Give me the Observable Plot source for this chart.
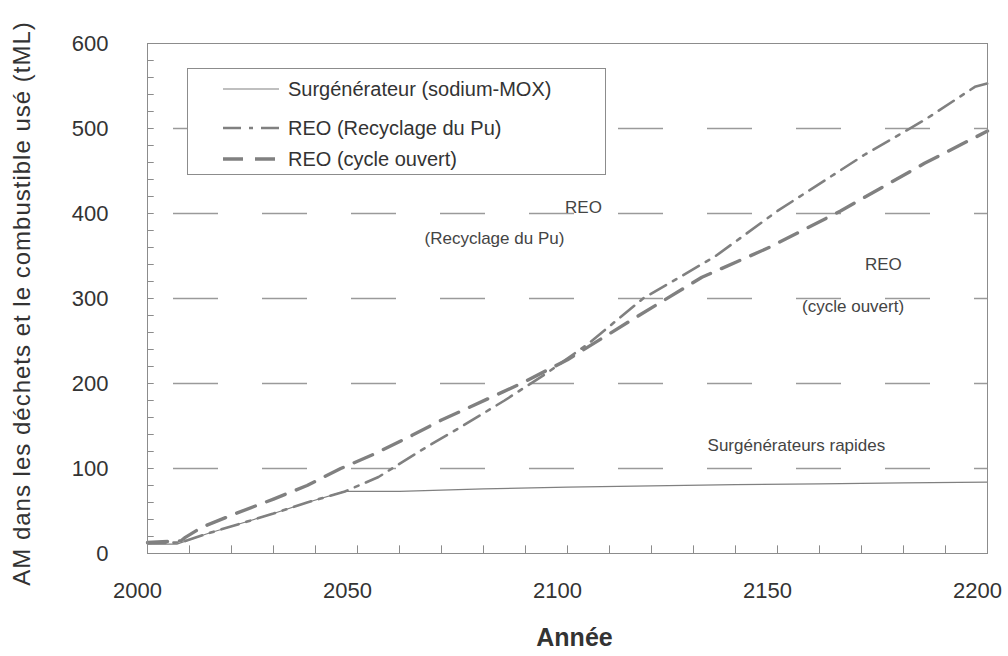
<!DOCTYPE html>
<html><head><meta charset="utf-8">
<script src="https://cdn.jsdelivr.net/npm/d3@7"></script>
<script src="https://cdn.jsdelivr.net/npm/@observablehq/plot@0.6"></script>
<style>
body{margin:0;background:#fff;font-family:"Liberation Sans",Arial,sans-serif;}
#wrap{position:relative;width:1008px;height:656px;}
#legend{position:absolute;left:187px;top:68px;width:419px;height:107px;background:#fff;border:1px solid #8c8c8c;box-sizing:border-box;}
.row{position:absolute;left:0;height:24px;display:flex;align-items:center;}
.row svg{margin-left:35px;margin-right:9px;}
.row span{font-size:20px;color:#333;}
.ytitle text{letter-spacing:1px;}
</style>
</head><body>
<div id="wrap"><div id="chart"></div><div id="legend"></div></div>
<script>
// ---- data ----
const surgYears  = [2000, 2007, 2014, 2022, 2030, 2038, 2047, 2060, 2080, 2100, 2120, 2140, 2160, 2180, 2200];
const surgValues = [11,   11,   23,   35,   47,   60,   73,   73,   76,   78,   79.5, 81,   82,   83,   84];

const recyYears  = [2000, 2008, 2014, 2022, 2030, 2038, 2047, 2055, 2065, 2075, 2085, 2095, 2105, 2118, 2135, 2150, 2171, 2185, 2197, 2200];
const recyValues = [12,   13,   23,   35,   47,   60,   73,   90,   121,  150,  180,  212,  247,  300,  349,  403,  470,  510,  549,  553];

const openYears  = [2000, 2008, 2009, 2013, 2021, 2030, 2038, 2046, 2054, 2063, 2070, 2089, 2100, 2117, 2132, 2148, 2165, 2185, 2200];
const openValues = [13,   15,   19,   31,   47,   64,   80,   100,  117,  139,  157,  200,  228,  280,  325,  360,  403,  459,  497];

const xTicks = [2000, 2050, 2100, 2150, 2200];
const yTicks = [0, 100, 200, 300, 400, 500, 600];
const gridValues = [100, 200, 300, 400, 500];

const seriesNames = ["Surgénérateur (sodium-MOX)", "REO (Recyclage du Pu)", "REO (cycle ouvert)"];

const annotLabels = ["REO", "(Recyclage du Pu)", "REO", "(cycle ouvert)", "Surgénérateurs rapides"];
const annotYears  = [2103.8, 2082.6, 2175.2, 2168, 2154.5];
const annotValues = [407, 371, 340, 291, 127];

const yTitle = "AM dans les déchets et le combustible usé (tML)";
const xTitle = "Année";

// ---- build ----
const toRows = (xs, ys) => xs.map((x, i) => ({year: x, value: ys[i]}));
const surg = toRows(surgYears, surgValues);
const recy = toRows(recyYears, recyValues);
const open = toRows(openYears, openValues);
const annots = annotLabels.map((l, i) => ({label: l, year: annotYears[i], value: annotValues[i]}));

const gray = "#808080";
const styles = [
  {strokeWidth: 1.2, dash: null},
  {strokeWidth: 2.6, dash: "18 8 4 8"},
  {strokeWidth: 3.4, dash: "20 12"}
];

const chart = Plot.plot({
  width: 1008, height: 656,
  marginTop: 43, marginBottom: 103, marginLeft: 147, marginRight: 21,
  style: {fontFamily: '"Liberation Sans", Arial, sans-serif', fontSize: "22px", color: "#333", background: "#fff"},
  x: {domain: [2000, 2200]},
  y: {domain: [0, 600]},
  marks: [
    Plot.ruleY(gridValues, {stroke: "#9a9a9a", strokeWidth: 1.6, strokeDasharray: "45 44", strokeDashoffset: 63}),
    Plot.ruleX(d3.range(2010, 2200, 10), {y1: 0, y2: 9, stroke: "#8c8c8c"}),
    Plot.ruleY(d3.range(20, 600, 20), {x1: 2000, x2: 2001.6, stroke: "#8c8c8c"}),
    Plot.line(open, {x: "year", y: "value", stroke: gray, strokeWidth: styles[2].strokeWidth, strokeDasharray: styles[2].dash}),
    Plot.line(recy, {x: "year", y: "value", stroke: gray, strokeWidth: styles[1].strokeWidth, strokeDasharray: styles[1].dash}),
    Plot.line(surg, {x: "year", y: "value", stroke: gray, strokeWidth: styles[0].strokeWidth}),
    Plot.frame({stroke: "#8c8c8c"}),
    Plot.axisX({ticks: xTicks, tickSize: 0, tickPadding: 29, dx: -10, tickFormat: d => String(d), label: null}),
    Plot.axisY({ticks: yTicks, tickSize: 0, tickPadding: 39, label: null}),
    Plot.text(annots, {x: "year", y: "value", text: "label", fontSize: 17, fill: "#444"}),
    Plot.text([xTitle], {frameAnchor: "bottom", dy: 92, dx: 7, fontSize: 25, fontWeight: "bold", fill: "#333"}),
    Plot.text([yTitle], {frameAnchor: "left", textAnchor: "middle", lineAnchor: "middle", rotate: -90, dx: -125, dy: 5, fontSize: 24, fill: "#333", className: "ytitle"})
  ]
});
document.getElementById("chart").appendChild(chart);

// legend
const legend = document.getElementById("legend");
const rowTops = [8, 47, 78];
seriesNames.forEach((name, i) => {
  const row = document.createElement("div");
  row.className = "row";
  row.style.top = rowTops[i] + "px";
  const s = styles[i];
  row.innerHTML = `<svg width="56" height="12"><line x1="0" y1="6" x2="56" y2="6" stroke="${gray}" stroke-width="${s.strokeWidth}" ${s.dash ? `stroke-dasharray="${s.dash}"` : ""}/></svg><span>${name}</span>`;
  legend.appendChild(row);
});
</script>
</body></html>
